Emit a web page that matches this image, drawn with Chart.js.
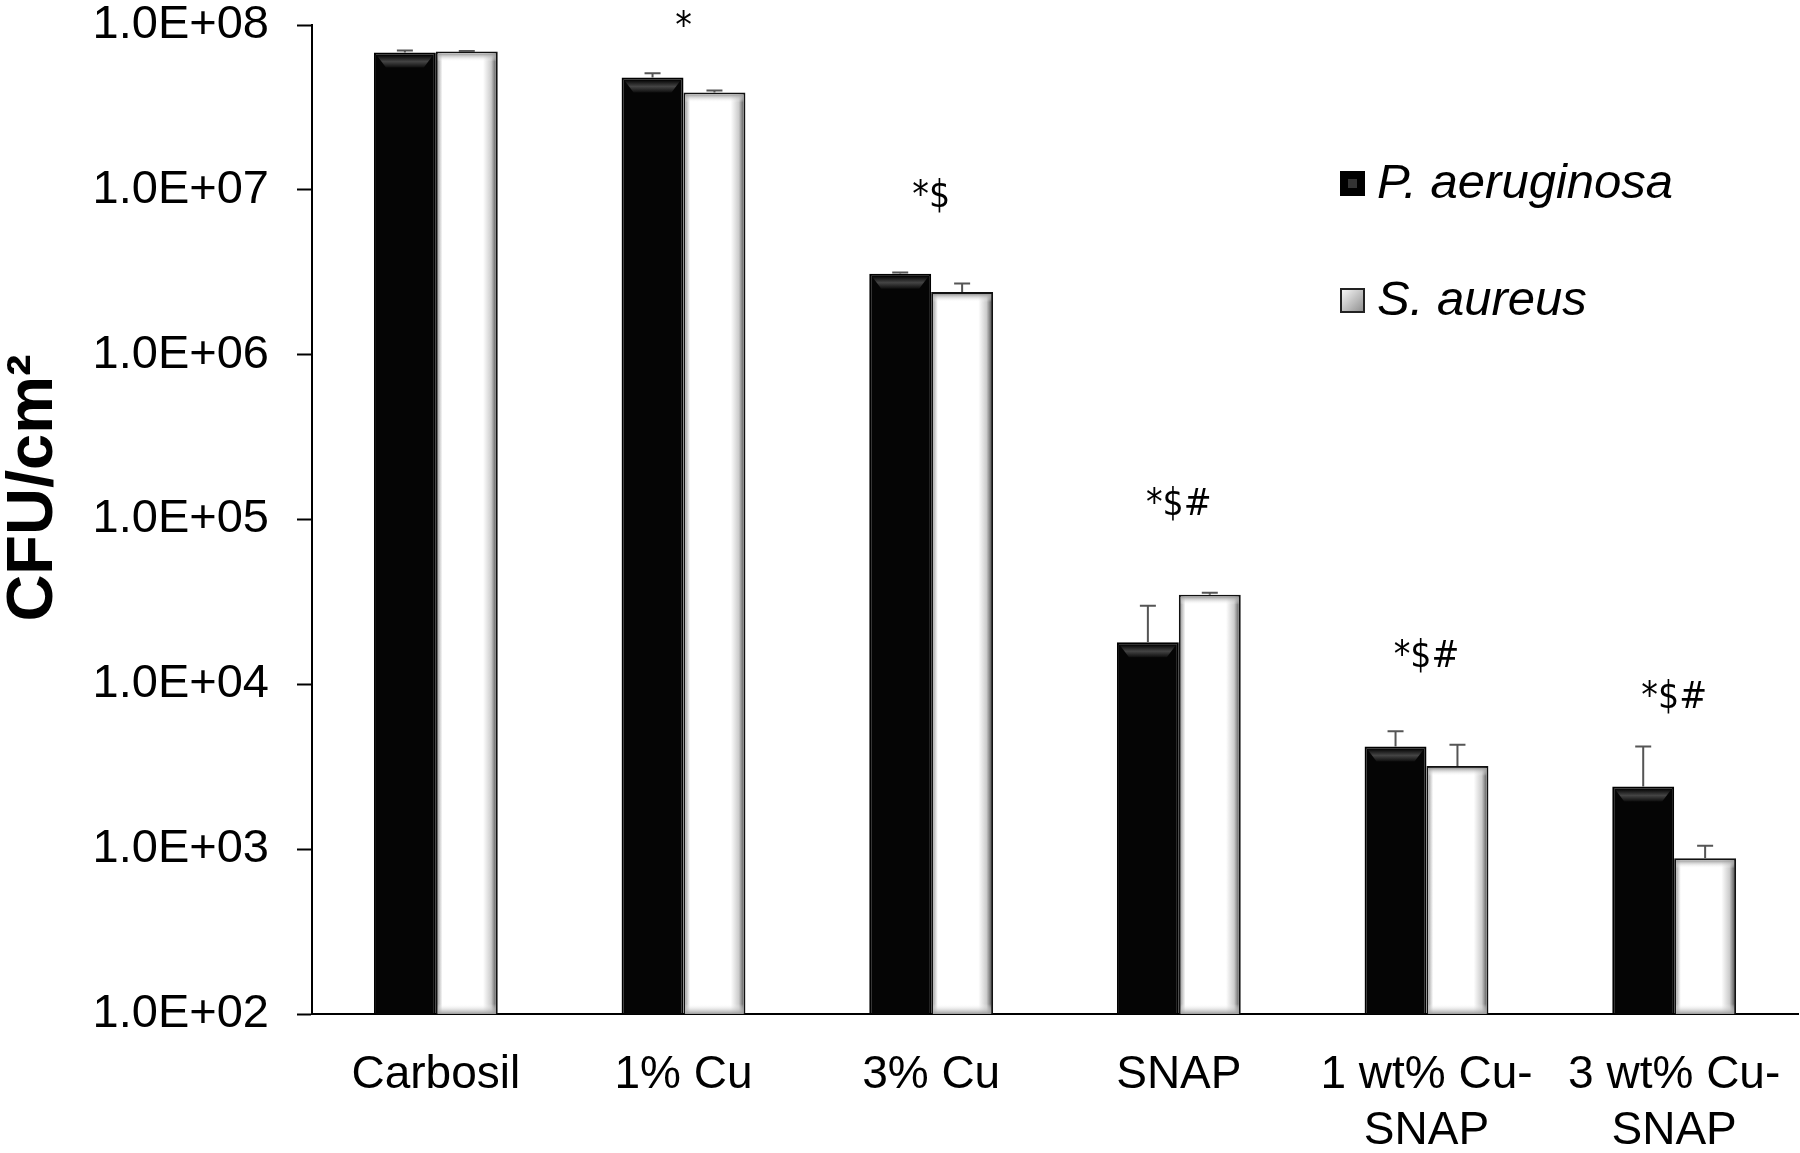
<!DOCTYPE html>
<html>
<head>
<meta charset="utf-8">
<script src="https://cdn.jsdelivr.net/npm/chart.js@4/dist/chart.umd.min.js"></script>
<style>
    html, body { margin: 0; padding: 0; background: #fff; }
</style>
</head>
<body>
<canvas id="cfuChart" width="1800" height="1153"></canvas>
<script>
// Dados do gráfico
const categories = ['Carbosil', '1% Cu', '3% Cu', 'SNAP', ['1 wt% Cu-', 'SNAP'], ['3 wt% Cu-', 'SNAP']];
const seriesNames = ['P. aeruginosa', 'S. aureus'];
const paValues = [6.8e7, 4.8e7, 3.1e6, 1.8e4, 4.2e3, 2.4e3];
const saValues = [6.9e7, 3.9e7, 2.4e6, 3.5e4, 3.2e3, 880];
const paErrors = [2.0e6, 3.0e6, 5.0e4, 1.2e4, 1.0e3, 1.8e3];
const saErrors = [5.0e5, 1.0e6, 3.0e5, 1.0e3, 1.1e3, 170];
const marks = ['', '*', '*$', '*$#', '*$#', '*$#'];
const markLevels = [null, 9.5e7, 9.0e6, 1.22e5, 1.46e4, 8.2e3];
const tickValues = [1e2, 1e3, 1e4, 1e5, 1e6, 1e7, 1e8];
const tickLabels = ['1.0E+02', '1.0E+03', '1.0E+04', '1.0E+05', '1.0E+06', '1.0E+07', '1.0E+08'];
const yTitle = 'CFU/cm²';

Chart.defaults.font.family = '"Liberation Sans", Arial, sans-serif';
Chart.defaults.color = '#000';

// sombreamento das barras, barras de erro, marcas, título do eixo e legenda
const decorPlugin = {
    id: 'decor',
    afterDatasetsDraw(chart) {
        const ctx = chart.ctx;
        const y = chart.scales.y;
        const x = chart.scales.x;
        const errs = [paErrors, saErrors];

        chart.data.datasets.forEach((ds, di) => {
            const meta = chart.getDatasetMeta(di);
            meta.data.forEach((bar, i) => {
                const p = bar.getProps(['x', 'y', 'width', 'base'], true);
                const l = p.x - p.width / 2, r = p.x + p.width / 2;
                const t = p.y, b = p.base;
                ctx.save();
                if (di === 0) {
                    const g = ctx.createLinearGradient(0, t + 2, 0, t + 16);
                    g.addColorStop(0, '#000');
                    g.addColorStop(0.5, '#444');
                    g.addColorStop(1, '#050505');
                    ctx.fillStyle = g;
                    ctx.beginPath();
                    ctx.moveTo(l + 3, t + 3);
                    ctx.lineTo(r - 3, t + 3);
                    ctx.lineTo(r - 12, t + 15);
                    ctx.lineTo(l + 12, t + 15);
                    ctx.closePath();
                    ctx.fill();
                } else {
                    const g = ctx.createLinearGradient(l + 2, 0, r - 2, 0);
                    g.addColorStop(0, '#aaa');
                    g.addColorStop(0.08, '#fff');
                    g.addColorStop(0.78, '#fff');
                    g.addColorStop(0.92, '#ccc');
                    g.addColorStop(1, '#666');
                    ctx.fillStyle = g;
                    ctx.fillRect(l + 2, t + 2, p.width - 4, b - t - 2);
                    const gt = ctx.createLinearGradient(0, t + 2, 0, t + 10);
                    gt.addColorStop(0, '#999');
                    gt.addColorStop(1, 'rgba(255,255,255,0)');
                    ctx.fillStyle = gt;
                    ctx.fillRect(l + 2, t + 2, p.width - 4, 8);
                    const gb = ctx.createLinearGradient(0, b - 10, 0, b);
                    gb.addColorStop(0, 'rgba(255,255,255,0)');
                    gb.addColorStop(1, '#999');
                    ctx.fillStyle = gb;
                    ctx.fillRect(l + 2, b - 10, p.width - 4, 10);
                }
                ctx.restore();

                // barra de erro (só para cima)
                const v = ds.data[i];
                const top = y.getPixelForValue(v + errs[di][i]);
                ctx.save();
                ctx.strokeStyle = '#555';
                ctx.lineWidth = 2;
                ctx.beginPath();
                ctx.moveTo(p.x, t);
                ctx.lineTo(p.x, top);
                ctx.moveTo(p.x - 8, top);
                ctx.lineTo(p.x + 8, top);
                ctx.stroke();
                ctx.restore();
            });
        });

        // marcas de significância
        ctx.save();
        ctx.font = '37px "DejaVu Sans Condensed", "DejaVu Sans", sans-serif';
        ctx.fillStyle = '#000';
        ctx.textAlign = 'center';
        ctx.textBaseline = 'middle';
        marks.forEach((m, i) => {
            if (!m) return;
            ctx.fillText(m, x.getPixelForValue(i), y.getPixelForValue(markLevels[i]));
        });
        ctx.restore();

        // título do eixo Y
        ctx.save();
        ctx.translate(34, 488);
        ctx.rotate(-Math.PI / 2);
        ctx.font = 'bold 65px "Liberation Sans", Arial, sans-serif';
        ctx.fillStyle = '#000';
        ctx.textAlign = 'center';
        ctx.textBaseline = 'middle';
        ctx.fillText(yTitle, 0, 0);
        ctx.restore();

        // legenda
        ctx.save();
        ctx.font = 'italic 49px "Liberation Sans", Arial, sans-serif';
        ctx.textBaseline = 'middle';
        ctx.textAlign = 'left';
        const rows = [183, 300];
        rows.forEach((cy, k) => {
            const sx = 1340, sy = cy - 12, s = 25;
            if (k === 0) {
                ctx.fillStyle = '#000';
                ctx.fillRect(sx, sy, s, s);
                ctx.fillStyle = '#333';
                ctx.fillRect(sx + 8, sy + 8, s - 16, s - 16);
            } else {
                const g = ctx.createLinearGradient(sx, sy, sx + s, sy + s);
                g.addColorStop(0, '#fff');
                g.addColorStop(1, '#888');
                ctx.fillStyle = g;
                ctx.fillRect(sx, sy, s, s);
                ctx.strokeStyle = '#222';
                ctx.lineWidth = 2;
                ctx.strokeRect(sx + 1, sy + 1, s - 2, s - 2);
            }
            ctx.fillStyle = '#000';
            ctx.fillText(chart.data.datasets[k].label, 1377, cy + 1);
        });
        ctx.restore();
    }
};

const ctxCfu = document.getElementById('cfuChart').getContext('2d');

new Chart(ctxCfu, {
    type: 'bar',
    data: {
        labels: categories,
        datasets: [{
            label: seriesNames[0],
            data: paValues,
            backgroundColor: '#050505',
            borderColor: '#000',
            borderWidth: 2,
            categoryPercentage: 0.5,
            barPercentage: 1.0
        }, {
            label: seriesNames[1],
            data: saValues,
            backgroundColor: '#fff',
            borderColor: '#111',
            borderWidth: 2,
            categoryPercentage: 0.5,
            barPercentage: 1.0
        }]
    },
    options: {
        responsive: false,
        animation: false,
        layout: {
            padding: { top: 25, right: 2, left: 0, bottom: 0 }
        },
        plugins: {
            legend: { display: false },
            tooltip: { enabled: false }
        },
        scales: {
            x: {
                grid: { display: false, drawTicks: false },
                border: { color: '#000', width: 2 },
                ticks: {
                    font: { size: 46, lineHeight: 1.22 },
                    padding: 33,
                    maxRotation: 0,
                    autoSkip: false
                },
                afterFit: function(scale) {
                    scale.height = 139;
                    scale.paddingLeft = 0;
                    scale.paddingRight = 0;
                }
            },
            y: {
                type: 'logarithmic',
                min: 100,
                max: 1e8,
                grid: {
                    drawOnChartArea: false,
                    drawTicks: true,
                    tickLength: 15,
                    tickColor: '#000',
                    tickWidth: 2
                },
                border: { color: '#000', width: 2 },
                ticks: {
                    font: { size: 47, lineHeight: 1.08 },
                    padding: 28,
                    callback: function(value, index) { return tickLabels[index]; }
                },
                afterBuildTicks: function(scale) {
                    scale.ticks = tickValues.map(v => ({ value: v }));
                },
                afterFit: function(scale) {
                    scale.width = 312;
                    scale.paddingTop = 0;
                    scale.paddingBottom = 0;
                }
            }
        }
    },
    plugins: [decorPlugin]
});
</script>
</body>
</html>
